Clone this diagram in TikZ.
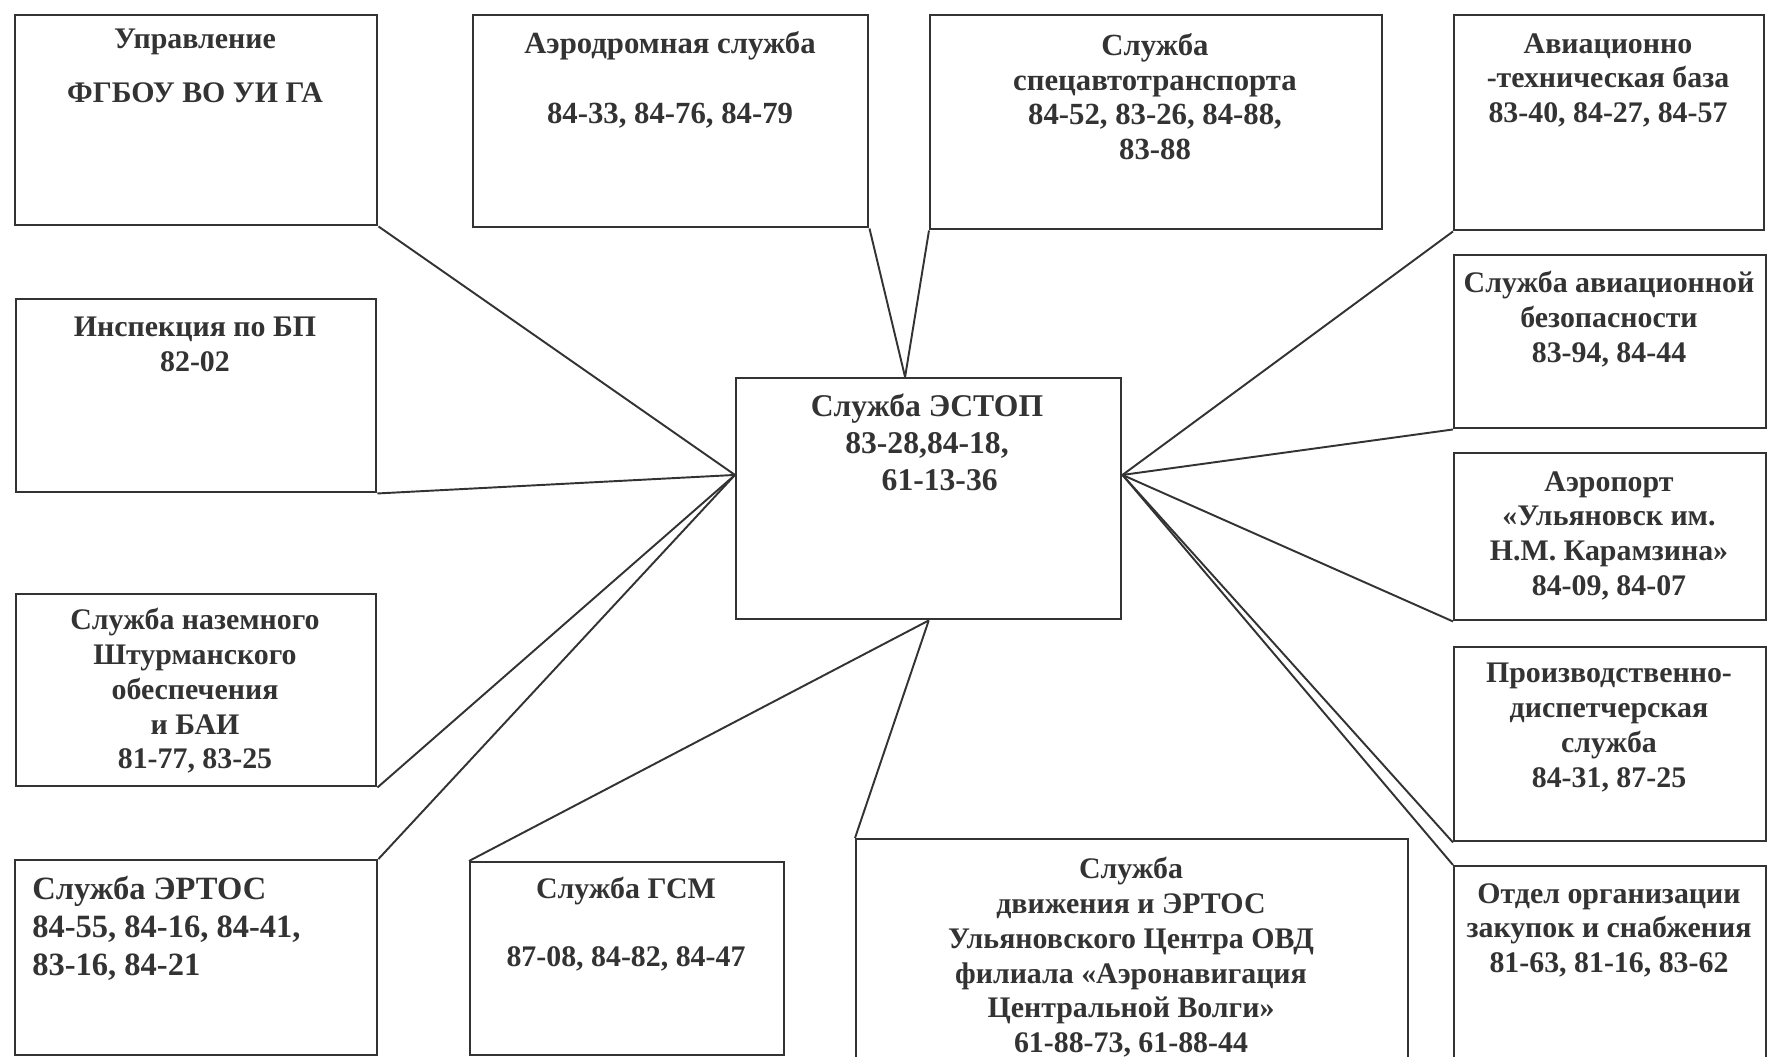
\documentclass[tikz,border=0pt]{standalone}
\usepackage{fontspec}
\setmainfont{Liberation Serif}
\definecolor{ink}{HTML}{333333}

\begin{document}
\begin{tikzpicture}[x=0.2mm,y=-0.2mm,
        box/.style 2 args={draw=ink,line width=1.4pt,anchor=north west,inner sep=0pt,minimum width=#1*0.2mm,minimum height=#2*0.2mm},
        txt/.style={font=\bfseries\fontsize{17}{19.8}\selectfont,align=center,text=ink,inner sep=0pt,anchor=north},
        link/.style={draw=ink,line width=1.1pt}]
        \useasboundingbox (0,0) rectangle (1772,1057);
        \clip (0,0) rectangle (1772,1057);
        % boxes
        \node[box={362}{210}] (upr) at (14,14) {};
        \node[box={395}{212}] (aero) at (472,14) {};
        \node[box={452}{214}] (spec) at (929,14) {};
        \node[box={310}{215}] (atb) at (1453,14) {};
        \node[box={360}{193}] (insp) at (15,298) {};
        \node[box={312}{173}] (sab) at (1453,254) {};
        \node[box={385}{241}] (estop) at (735,377) {};
        \node[box={312}{167}] (port) at (1453,452) {};
        \node[box={360}{192}] (shtur) at (15,593) {};
        \node[box={312}{194}] (proizv) at (1453,646) {};
        \node[box={362}{195}] (ertos) at (14,859) {};
        \node[box={314}{193}] (gsm) at (469,861) {};
        \node[box={552}{228}] (dvizh) at (855,838) {};
        \node[box={312}{201}] (otdel) at (1453,865) {};
        % texts
        \node[txt] (uprT) at (195,29) {Управление\\[3.8mm]ФГБОУ ВО УИ ГА};
        \node[txt,font=\bfseries\fontsize{17.5}{19.8}\selectfont] (aeroT) at (670,31) {Аэродромная служба\\[7mm]84-33, 84-76, 84-79};
        \node[txt,font=\bfseries\fontsize{17.5}{19.8}\selectfont] (specT) at (1155,33) {Служба\\спецавтотранспорта\\84-52, 83-26, 84-88,\\83-88};
        \node[txt] (atbT) at (1608,33) {Авиационно\\-техническая база\\83-40, 84-27, 84-57};
        \node[txt] (inspT) at (195,317) {Инспекция по БП\\82-02};
        \node[txt] (sabT) at (1609,271) {Служба авиационной\\безопасности\\83-94, 84-44};
        \node[txt,font=\bfseries\fontsize{18}{21}\selectfont] (estopT) at (927,394) {Служба ЭСТОП\\83-28,84-18,\\\hspace{0.8em}61-13-36};
        \node[txt] (portT) at (1609,471) {Аэропорт\\«Ульяновск им.\\Н.М. Карамзина»\\84-09, 84-07};
        \node[txt] (shturT) at (195,608) {Служба наземного\\Штурманского\\обеспечения\\и БАИ\\81-77, 83-25};
        \node[txt] (proizvT) at (1609,663) {Производственно-\\диспетчерская\\служба\\84-31, 87-25};
        \node[txt,align=left,anchor=north west,font=\bfseries\fontsize{18.5}{21.6}\selectfont] (ertosT) at (32,876) {Служба ЭРТОС\\84-55, 84-16, 84-41,\\83-16, 84-21};
        \node[txt] (gsmT) at (626,877) {Служба ГСМ\\[6.6mm]87-08, 84-82, 84-47};
        \node[txt] (dvizhT) at (1131,857) {Служба\\движения и ЭРТОС\\Ульяновского Центра ОВД\\филиала «Аэронавигация\\Центральной Волги»\\61-88-73, 61-88-44};
        \node[txt] (otdelT) at (1609,883) {Отдел организации\\закупок и снабжения\\81-63, 81-16, 83-62};
        % links to the centre
        \draw[link] (upr.south east) -- (estop.173);
        \draw[link] (insp.south east) -- (estop.173);
        \draw[link] (shtur.south east) -- (estop.173);
        \draw[link] (ertos.north east) -- (estop.173);
        \draw[link] (aero.south east) -- (estop.101);
        \draw[link] (spec.south west) -- (estop.101);
        \draw[link] (atb.south west) -- (estop.7);
        \draw[link] (sab.south west) -- (estop.7);
        \draw[link] (port.south west) -- (estop.7);
        \draw[link] (proizv.south west) -- (estop.7);
        \draw[link] (otdel.north west) -- (estop.7);
        \draw[link] (gsm.north west) -- (estop.south);
        \draw[link] (dvizh.north west) -- (estop.south);
    \end{tikzpicture}
\end{document}
